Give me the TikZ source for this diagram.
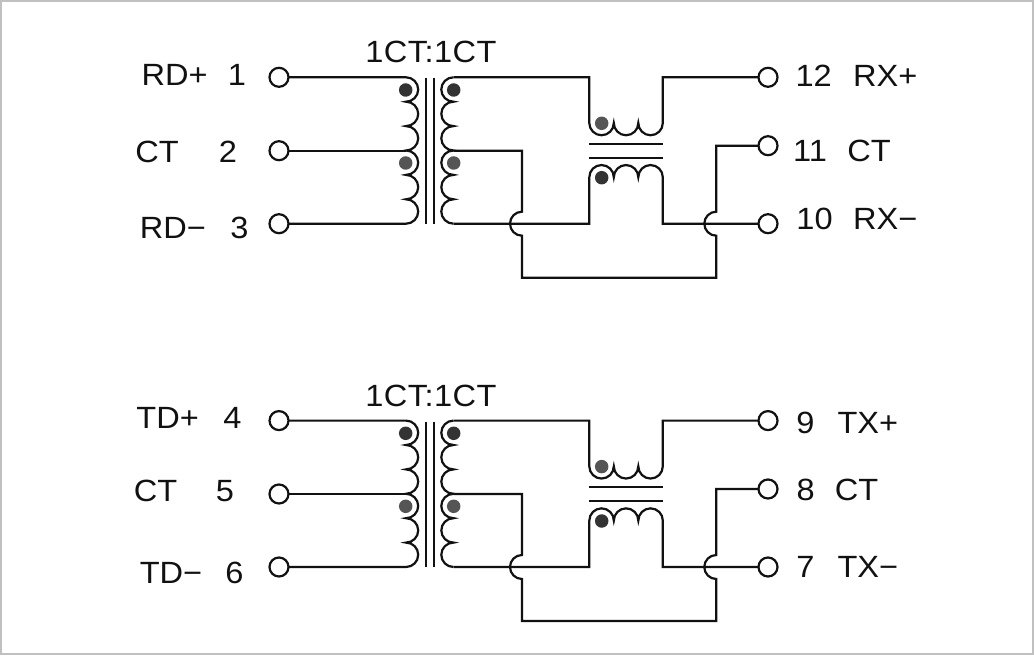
\documentclass[tikz,border=0pt]{standalone}
\usepackage{fontspec}
\setmainfont[FakeStretch=1.06]{Liberation Sans}
\usepackage{tikz}
\definecolor{wirecol}{HTML}{111111}
\definecolor{framecol}{HTML}{C0C0C0}
\definecolor{dotdark}{HTML}{333333}
\definecolor{dotgrey}{HTML}{555555}
\tikzset{
  wire/.style={line width=0.022cm,color=wirecol},
  pin/.style={circle,draw=wirecol,line width=0.022cm,fill=white,minimum size=0.19cm,inner sep=0pt,outer sep=0pt},
  lbl/.style={inner sep=0pt,text height=6.26pt,text depth=0pt,font=\fontsize{8.74}{10}\selectfont,text=wirecol},
  dotmark/.style={circle,minimum size=0.135cm,inner sep=0pt,outer sep=0pt},
}
\begin{document}
\begin{tikzpicture}

\useasboundingbox (0,0) rectangle (10.34,6.55);
\draw [line width=0.02cm,color=framecol](0.01,0.01) rectangle (10.33,6.54);

\foreach \blk/\ypos in {r/0,t/-3.433}{
\begin{scope}[yshift=\ypos cm,name prefix=\blk-]
 \node [pin] (in1) at (2.79,5.777) {};
 \node [pin] (in2) at (2.79,5.043) {};
 \node [pin] (in3) at (2.79,4.313) {};
 \node [pin] (out1) at (7.68,5.777) {};
 \node [pin] (out2) at (7.68,5.093) {};
 \node [pin] (out3) at (7.68,4.313) {};
 \coordinate (pritop) at (4.06,5.777);
 \coordinate (pritap) at (4.06,5.043);
 \coordinate (sectop) at (4.535,5.777);
 \coordinate (sectap) at (4.535,5.043);
 \coordinate (secbot) at (4.535,4.313);
 \coordinate (coreA) at (4.257,5.767);
 \coordinate (coreB) at (4.257,4.31);
 \coordinate (coreC) at (4.337,5.767);
 \coordinate (coreD) at (4.337,4.31);
 \coordinate (coreE) at (5.893,5.11);
 \coordinate (coreF) at (6.628,5.11);
 \coordinate (coreG) at (5.893,4.973);
 \coordinate (coreH) at (6.628,4.973);
% primary and secondary
\draw [wire](in1.east) -- (pritop) \foreach \n in {1,...,6}{arc[start angle=90,end angle=-90,radius=0.122]} -- (in3.east);
\draw [wire](in2.east) -- (pritap);
\draw [wire](coreA) -- (coreB);
\draw [wire](coreC) -- (coreD);
\draw [wire](sectop) \foreach \n in {1,...,6}{arc[start angle=90,end angle=270,radius=0.122]};
% choke
\draw [wire](sectop) -- (5.893,5.777) -- (5.893,5.32) \foreach \n in {1,2,3}{arc[start angle=180,end angle=360,radius=0.1225]} -- (6.628,5.777) -- (out1.west);
\draw [wire](secbot) -- (5.893,4.313) -- (5.893,4.777) \foreach \n in {1,2,3}{arc[start angle=180,end angle=0,radius=0.1225]} -- (6.628,4.313) -- (out3.west);
\draw [wire](coreE) -- (coreF);
\draw [wire](coreG) -- (coreH);
% centre tap with the two jumps
\draw [wire](sectap) -- (5.22,5.043) -- (5.22,4.433) arc[start angle=90,end angle=270,radius=0.12] -- (5.22,3.773) -- (7.163,3.773) -- (7.163,4.193) arc[start angle=270,end angle=90,radius=0.12] -- (7.163,5.093) -- (out2.west);
 \node [dotmark,fill=dotdark] (dotA) at (4.057,5.65) {};
 \node [dotmark,fill=dotgrey] (dotB) at (4.057,4.92) {};
 \node [dotmark,fill=dotdark] (dotC) at (4.537,5.65) {};
 \node [dotmark,fill=dotgrey] (dotD) at (4.537,4.92) {};
 \node [dotmark,fill=dotgrey] (dotE) at (6.017,5.317) {};
 \node [dotmark,fill=dotdark] (dotF) at (6.017,4.773) {};
\end{scope}
}

 \node [lbl] (ratioR) at (4.31,6.033) {\addfontfeature{LetterSpace=1.5}1CT:1CT};
 \node [lbl] (ratioT) at (4.31,2.597) {\addfontfeature{LetterSpace=1.5}1CT:1CT};

 \node [lbl] (rdp) at (1.747,5.80) {RD+};
 \node [lbl] (p1) at (2.37,5.80) {1};
 \node [lbl] (ctA) at (1.57,5.033) {CT};
 \node [lbl] (p2) at (2.28,5.033) {2};
 \node [lbl] (rdm) at (1.73,4.275) {RD−};
 \node [lbl] (p3) at (2.395,4.275) {3};
 \node [lbl] (p12) at (8.137,5.79) {12};
 \node [lbl] (rxp) at (8.853,5.79) {RX+};
 \node [lbl] (p11) at (8.10,5.047) {11};
 \node [lbl] (ctB) at (8.69,5.047) {CT};
 \node [lbl] (p10) at (8.145,4.37) {10};
 \node [lbl] (rxm) at (8.853,4.37) {RX−};

 \node [lbl] (tdp) at (1.677,2.38) {TD+};
 \node [lbl] (p4) at (2.323,2.38) {4};
 \node [lbl] (ctC) at (1.555,1.645) {CT};
 \node [lbl] (p5) at (2.25,1.645) {5};
 \node [lbl] (tdm) at (1.71,0.83) {TD−};
 \node [lbl] (p6) at (2.345,0.83) {6};
 \node [lbl] (p9) at (8.053,2.323) {9};
 \node [lbl] (txp) at (8.678,2.323) {TX+};
 \node [lbl] (p8) at (8.057,1.653) {8};
 \node [lbl] (ctD) at (8.565,1.653) {CT};
 \node [lbl] (p7) at (8.053,0.887) {7};
 \node [lbl] (txm) at (8.678,0.887) {TX−};
\end{tikzpicture}
\end{document}
